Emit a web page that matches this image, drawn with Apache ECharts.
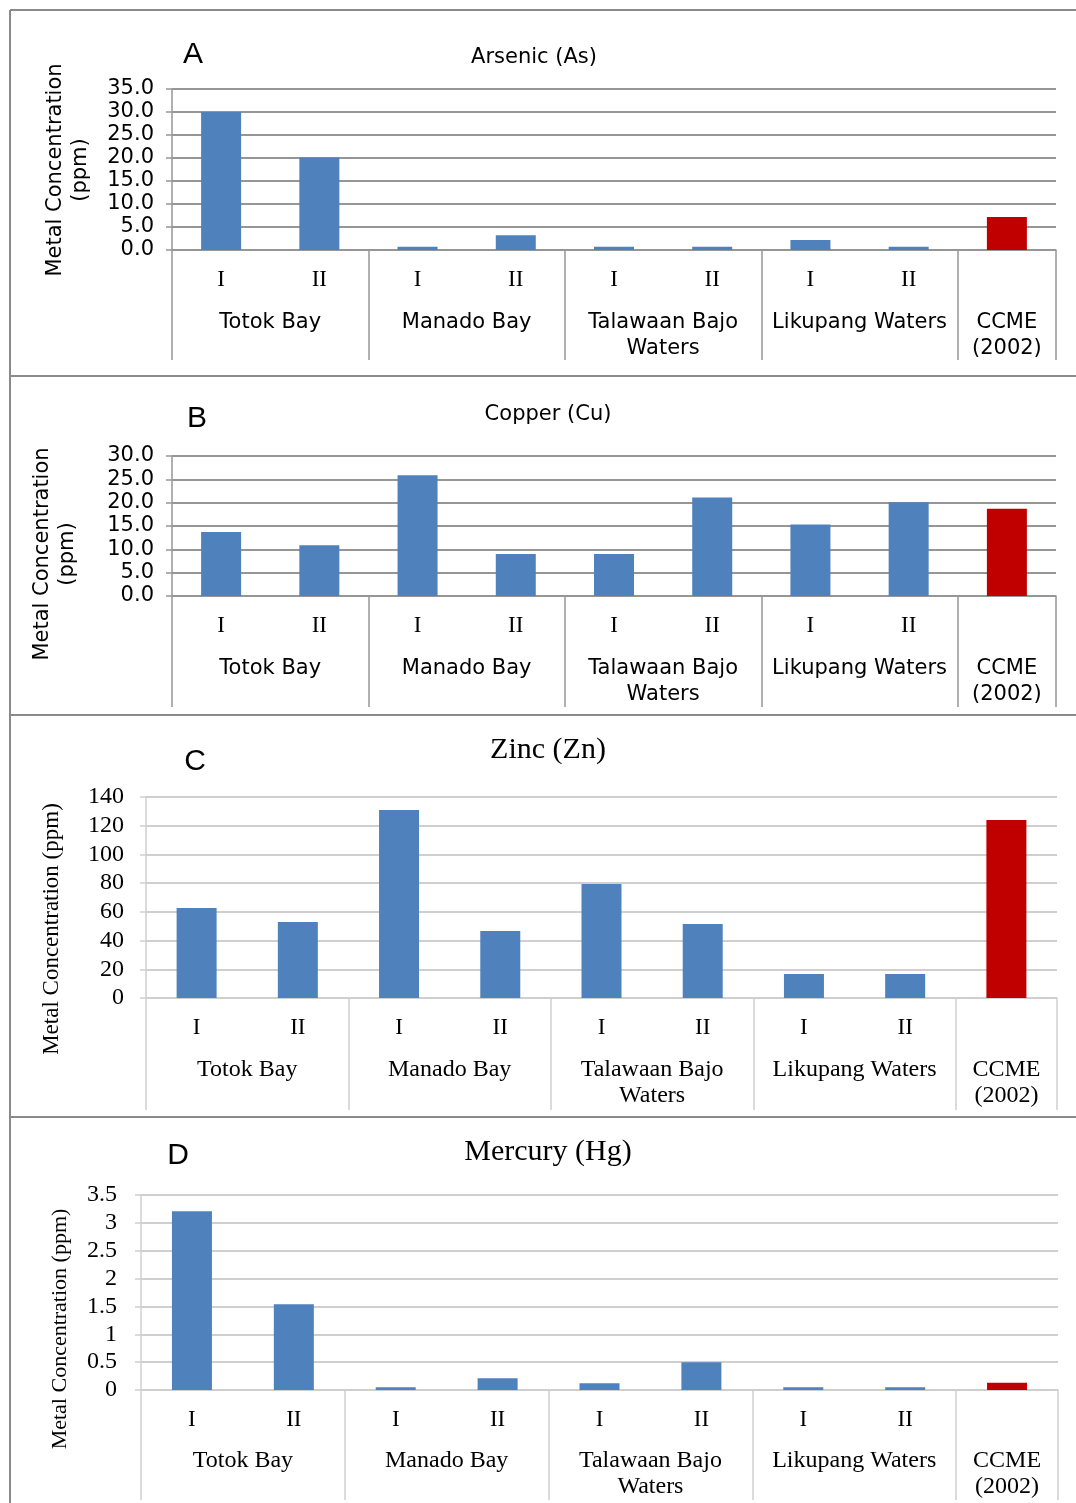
<!DOCTYPE html>
<html>
<head>
<meta charset="utf-8">
<script src="https://cdn.jsdelivr.net/npm/echarts@6/dist/echarts.min.js"></script>
<style>
html,body{margin:0;padding:0;background:#fff;}
#chart{width:1076px;height:1503px;}
</style>
</head>
<body>
<div id="chart"></div>
<script>
// ---- data ----
const sites = ['I', 'II', 'I', 'II', 'I', 'II', 'I', 'II', ''];
const groups = ['Totok Bay', 'Manado Bay', 'Talawaan Bajo\nWaters', 'Likupang Waters', 'CCME\n(2002)'];
const groupSizes = [2, 2, 2, 2, 1];
const arsenic = [30.0, 20.1, 0.7, 3.2, 0.7, 0.7, 2.2, 0.7, 7.2];
const copper = [13.7, 10.9, 25.9, 9.0, 9.0, 21.1, 15.3, 20.1, 18.7];
const zinc = [62.7, 52.9, 130.9, 46.7, 79.4, 51.5, 16.7, 16.7, 124];
const mercury = [3.21, 1.54, 0.05, 0.21, 0.12, 0.50, 0.05, 0.05, 0.13];
const titles = ['Arsenic (As)', 'Copper (Cu)', 'Zinc (Zn)', 'Mercury (Hg)'];
const letters = ['A', 'B', 'C', 'D'];
const yName = 'Metal Concentration (ppm)';
const yMax = [35, 30, 140, 3.5];
const yStep = [5, 5, 20, 0.5];

// group boundaries / centres derived from group sizes
const bounds = [0];
groupSizes.forEach(s => bounds.push(bounds[bounds.length - 1] + s));
const centres = groupSizes.map((s, i) => bounds[i] + s / 2);

const SANS = 'DejaVu Sans';
const SERIF = 'Liberation Serif';
const BLUE = '#4F81BD', RED = '#C00000';

const panels = [
  {grid: {left: 172, top: 89, width: 884, height: 161}, data: arsenic, font: SANS, lblSize: 21, grpSize: 21,
   grid2: '#969696', fmt: v => v.toFixed(1), ymargin: 18, tick: 110, gm: 60},
  {grid: {left: 172, top: 456, width: 884, height: 140}, data: copper, font: SANS, lblSize: 21, grpSize: 21,
   grid2: '#969696', fmt: v => v.toFixed(1), ymargin: 18, tick: 111, gm: 60},
  {grid: {left: 146, top: 797, width: 911, height: 201}, data: zinc, font: SERIF, lblSize: 24, grpSize: 24,
   grid2: '#cfcfcf', fmt: v => String(v), ymargin: 22, tick: 112, gm: 59},
  {grid: {left: 141, top: 1195, width: 917, height: 195}, data: mercury, font: SERIF, lblSize: 24, grpSize: 24,
   grid2: '#cfcfcf', fmt: v => String(v), ymargin: 24, tick: 110, gm: 58}
];

const grids = [], xAxes = [], yAxes = [], series = [];
panels.forEach((p, i) => {
  grids.push(Object.assign({containLabel: false}, p.grid));
  xAxes.push({
    gridIndex: i, type: 'category', data: sites, position: 'bottom',
    axisLine: {lineStyle: {color: p.grid2, width: 1.5}},
    axisTick: {show: false},
    axisLabel: {interval: 0, fontFamily: SERIF, fontSize: 23, color: '#000', margin: 18}
  });
  xAxes.push({
    gridIndex: i, type: 'value', min: 0, max: 9, position: 'bottom',
    axisLine: {show: false}, splitLine: {show: false},
    axisTick: {show: true, customValues: bounds, length: p.tick, lineStyle: {color: p.grid2, width: 1.5}},
    axisLabel: {customValues: centres, fontFamily: p.font, fontSize: p.grpSize, color: '#000', margin: p.gm, lineHeight: 26,
      formatter: v => { const k = centres.indexOf(v); return k >= 0 ? groups[k] : ''; }}
  });
  yAxes.push({
    gridIndex: i, type: 'value', min: 0, max: yMax[i], interval: yStep[i],
    axisLine: {show: true, lineStyle: {color: p.grid2, width: 1.5}},
    axisTick: {show: true, length: 6, lineStyle: {color: p.grid2, width: 1.5}},
    splitLine: {lineStyle: {color: p.grid2, width: 2}},
    axisLabel: {fontFamily: p.font, fontSize: p.lblSize, color: '#000', margin: p.ymargin, formatter: p.fmt}
  });
  series.push({
    type: 'bar', xAxisIndex: i * 2, yAxisIndex: i, data: p.data, barWidth: 40,
    itemStyle: {color: params => params.dataIndex === p.data.length - 1 ? RED : BLUE},
    silent: true, animation: false
  });
});

const line = (x1, y1, x2, y2) => ({type: 'line', shape: {x1, y1, x2, y2}, style: {stroke: '#8a8a8a', lineWidth: 2}, silent: true});
const txt = (text, x, y, font, extra) => Object.assign({type: 'text', x, y, silent: true,
  style: Object.assign({text, font, fill: '#000', align: 'center', verticalAlign: 'middle'}, extra && extra.style || {})},
  extra && extra.rot ? {rotation: extra.rot} : {});

const graphic = [
  line(10, 10, 1076, 10), line(10, 10, 10, 1503),
  line(10, 376, 1076, 376), line(10, 715, 1076, 715), line(10, 1117, 1076, 1117),
  txt(titles[0], 534, 58, '21px "DejaVu Sans"'),
  txt(titles[1], 548, 415, '21px "DejaVu Sans"'),
  txt(titles[2], 548, 750, '30px "Liberation Serif"'),
  txt(titles[3], 548, 1152, '30px "Liberation Serif"'),
  txt(letters[0], 193, 55, '30px "Liberation Sans Narrow", "Liberation Sans"'),
  txt(letters[1], 197, 419, '30px "Liberation Sans Narrow", "Liberation Sans"'),
  txt(letters[2], 195, 762, '30px "Liberation Sans Narrow", "Liberation Sans"'),
  txt(letters[3], 178, 1156, '30px "Liberation Sans Narrow", "Liberation Sans"'),
  txt(yName.replace(' (', '\n('), 68, 170, '21px "DejaVu Sans"', {rot: Math.PI / 2, style: {lineHeight: 25}}),
  txt(yName.replace(' (', '\n('), 55, 554, '21px "DejaVu Sans"', {rot: Math.PI / 2, style: {lineHeight: 25}}),
  txt(yName, 52, 929, '23px "Liberation Serif"', {rot: Math.PI / 2}),
  txt(yName, 60, 1329, '22px "Liberation Serif"', {rot: Math.PI / 2})
];

const chart = echarts.init(document.getElementById('chart'), null, {renderer: 'canvas', width: 1076, height: 1503});
chart.setOption({
  animation: false,
  backgroundColor: '#fff',
  grid: grids, xAxis: xAxes, yAxis: yAxes, series: series, graphic: graphic
});
</script>
</body>
</html>
